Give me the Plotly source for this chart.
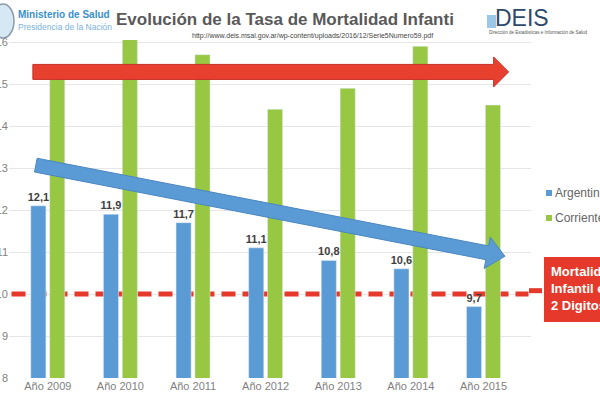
import plotly.graph_objects as go

# ---------------- data ----------------
years = ["Año 2009", "Año 2010", "Año 2011", "Año 2012", "Año 2013", "Año 2014", "Año 2015"]
argentina = [12.1, 11.9, 11.7, 11.1, 10.8, 10.6, 9.7]
corrientes = [15.3, 16.4, 15.7, 14.4, 14.9, 15.9, 14.5]
target_level = 10
y_ticks = [8, 9, 10, 11, 12, 13, 14, 15, 16]

# ---------------- layout constants ----------------
W, H = 600, 400
ML, MR, MT, MB = 9, 69, 40, 22
PW, PH = W - ML - MR, H - MT - MB
YMIN, YMAX = 8, 16.05

def px(x):
    return (x - ML) / PW

def py(y):
    return (H - MB - y) / PH

def data_to_pix(i, v):
    return ML + PW * (i + 0.5) / len(years), (H - MB) - (v - YMIN) / (YMAX - YMIN) * PH

def arrow_path(p0, p1, half_w, head_len, head_half):
    x0, y0 = data_to_pix(*p0)
    x1, y1 = data_to_pix(*p1)
    dx, dy = x1 - x0, y1 - y0
    L = (dx * dx + dy * dy) ** 0.5
    ux, uy = dx / L, dy / L
    nx, ny = -uy, ux
    bx, by = x1 - ux * head_len, y1 - uy * head_len
    pts = [
        (x0 + nx * half_w, y0 + ny * half_w),
        (bx + nx * half_w, by + ny * half_w),
        (bx + nx * head_half, by + ny * head_half),
        (x1, y1),
        (bx - nx * head_half, by - ny * head_half),
        (bx - nx * half_w, by - ny * half_w),
        (x0 - nx * half_w, y0 - ny * half_w),
    ]
    return "M" + " L".join(f"{px(a):.5f},{py(b):.5f}" for a, b in pts) + " Z"

BLUE = "#5b9bd5"
GREEN = "#97c743"
RED = "#e4392b"

fig = go.Figure()
fig.add_trace(go.Bar(
    x=years, y=argentina, name="Argentina", marker_color=BLUE,
    text=argentina, texttemplate="%{y:.1f}", textposition="outside", constraintext="none",
    textfont=dict(family="Liberation Sans", size=11, color="#3f3f3f", weight="bold"),
    cliponaxis=False,
))
fig.add_trace(go.Bar(
    x=years, y=corrientes, name="Corrientes", marker_color=GREEN,
))

shapes = []
# dashed target line behind bars
shapes.append(dict(type="line", xref="x", yref="y", x0=-0.5, x1=6.62, y0=target_level, y1=target_level,
                   line=dict(color=RED, width=5, dash="14px,7px"), layer="between"))
shapes.append(dict(type="line", xref="paper", yref="y", x0=px(529), x1=px(542), y0=target_level + 0.08,
                   y1=target_level + 0.08, line=dict(color=RED, width=5), layer="above"))
# red horizontal arrow
shapes.append(dict(type="path", xref="paper", yref="paper",
                   path=arrow_path((-0.18, 15.29), (6.2, 15.29), 7.5, 15, 15),
                   fillcolor="#e8402e", line=dict(color="#c9302a", width=1), layer="above"))
# blue descending arrow
shapes.append(dict(type="path", xref="paper", yref="paper",
                   path=arrow_path((-0.14, 13.07), (6.15, 10.9), 7, 18, 16),
                   fillcolor="#5b9bd5", line=dict(color="#4a86c0", width=1), layer="above"))
# manual legend squares
shapes.append(dict(type="rect", xref="paper", yref="paper", x0=px(546), x1=px(552), y0=py(196), y1=py(190),
                   fillcolor=BLUE, line=dict(width=0)))
shapes.append(dict(type="rect", xref="paper", yref="paper", x0=px(546), x1=px(552), y0=py(221), y1=py(215),
                   fillcolor=GREEN, line=dict(width=0)))
# red box
shapes.append(dict(type="rect", xref="paper", yref="paper", x0=px(544), x1=px(610), y0=py(322), y1=py(257),
                   fillcolor="#e53a2b", line=dict(width=0)))
# emblem (coat of arms)
shapes.append(dict(type="circle", xref="paper", yref="paper", x0=px(-8), x1=px(14), y0=py(38), y1=py(4),
                   fillcolor="#d7e8f5", line=dict(color="#8a9aa8", width=1.5)))
# DEIS light-blue block
shapes.append(dict(type="rect", xref="paper", yref="paper", x0=px(487), x1=px(496), y0=py(28), y1=py(15),
                   fillcolor="#9cc8e8", line=dict(width=0)))

ann = []
def add_text(text, x, y, size, color, bold=False, family="Liberation Sans", xanchor="left"):
    ann.append(dict(text=text, xref="paper", yref="paper", x=px(x), y=py(y), xanchor=xanchor, yanchor="middle",
                    showarrow=False, font=dict(family=family, size=size, color=color,
                                               weight="bold" if bold else "normal")))

add_text("Ministerio de Salud", 16, 14, 10, "#3b8fc9", bold=True)
add_text("Presidencia de la Nación", 16, 27, 8.5, "#79b3dc")
add_text("Evolución de la Tasa de Mortalidad Infanti", 114, 19, 17, "#595959", bold=True)
add_text("http://www.deis.msal.gov.ar/wp-content/uploads/2016/12/Serie5Numero59.pdf", 312, 36, 7, "#444444",
         xanchor="center")
add_text("DEIS", 493, 18, 23, "#2e4a6a")
add_text("Dirección de Estadísticas e Información de Salud", 487, 32, 4.5, "#555555")
add_text("Argentina", 553, 193, 12, "#666666")
add_text("Corrientes", 553, 218, 12, "#666666")
add_text("Mortalidad", 549, 271, 13, "white", bold=True)
add_text("Infantil en", 549, 288, 13, "white", bold=True)
add_text("2 Digitos", 549, 305, 13, "white", bold=True)

fig.update_layout(
    width=W, height=H,
    margin=dict(l=ML, r=MR, t=MT, b=MB, autoexpand=False),
    paper_bgcolor="white", plot_bgcolor="white",
    barmode="group", bargap=0.48, bargroupgap=0.2,
    separators=",.",
    showlegend=False,
    shapes=shapes, annotations=ann,
    font=dict(family="Liberation Sans"),
)
fig.update_xaxes(showgrid=False, showline=False, zeroline=False, automargin=False,
                 tickfont=dict(size=11, color="#7f7f7f"), ticks="")
fig.update_yaxes(range=[YMIN, YMAX], tickvals=y_ticks, showgrid=True, gridcolor="#e6e6e6", gridwidth=1,
                 zeroline=False, showline=False, automargin=False, ticks="",
                 tickfont=dict(size=11, color="#7f7f7f"))

fig.write_html("out.html", config={"displayModeBar": False},
               post_script="document.body.style.margin='0px';")
